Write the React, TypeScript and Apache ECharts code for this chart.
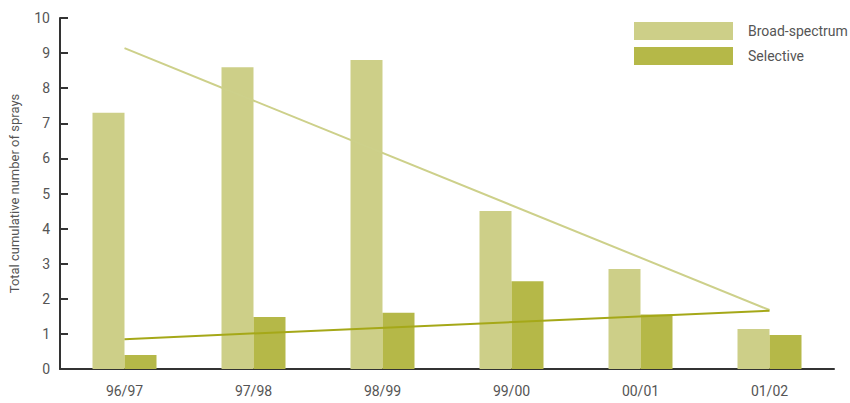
import React, { useEffect, useRef } from "react";
import * as echarts from "echarts";

const categories = ["96/97", "97/98", "98/99", "99/00", "00/01", "01/02"];
const broadSpectrum = [7.3, 8.6, 8.8, 4.5, 2.85, 1.14];
const selective = [0.4, 1.48, 1.6, 2.5, 1.55, 0.97];
// trend line end points, at first and last category
const broadTrend = [9.14, 1.68];
const selectiveTrend = [0.85, 1.66];
const yTicks = [0, 1, 2, 3, 4, 5, 6, 7, 8, 9, 10];

const FONT = "Roboto, 'Liberation Sans', sans-serif";
const BROAD = "#cdcf88";
const SEL = "#b5b848";

export default function App() {
  const ref = useRef<HTMLDivElement>(null);
  useEffect(() => {
    if (!ref.current) return;
    const chart = echarts.init(ref.current, undefined, { renderer: "svg" });
    const last = categories.length - 1;
    chart.setOption({
      animation: false,
      backgroundColor: "#ffffff",
      textStyle: { fontFamily: FONT },
      grid: { left: 57, right: 16, top: 18, bottom: 34, containLabel: false },
      legend: {
        orient: "vertical",
        left: 634,
        top: 22,
        padding: 0,
        itemWidth: 99,
        itemHeight: 18,
        itemGap: 7,
        icon: "rect",
        textStyle: { fontFamily: FONT, fontSize: 14, color: "#555", padding: [0, 0, 0, 10] },
        data: ["Broad-spectrum", "Selective"],
      },
      xAxis: {
        type: "category",
        data: categories,
        axisLine: { lineStyle: { color: "#333", width: 2 } },
        axisTick: { inside: true, length: 8, lineStyle: { color: "#333", width: 2 } },
        axisLabel: { color: "#555", fontSize: 14, margin: 15, fontFamily: FONT },
      },
      yAxis: {
        type: "value",
        min: yTicks[0],
        max: yTicks[yTicks.length - 1],
        interval: 1,
        name: "Total cumulative number of sprays",
        nameLocation: "middle",
        nameGap: 39,
        nameTextStyle: { color: "#555", fontSize: 13, fontFamily: FONT },
        axisLine: { show: true, lineStyle: { color: "#333", width: 2 } },
        axisTick: { show: true, inside: true, length: 8, lineStyle: { color: "#333", width: 2 } },
        axisLabel: { color: "#555", fontSize: 14, margin: 10, fontFamily: FONT },
        splitLine: { show: false },
      },
      series: [
        {
          name: "Broad-spectrum",
          type: "bar",
          data: broadSpectrum,
          barWidth: 32,
          barGap: "0%",
          itemStyle: { color: BROAD },
        },
        {
          name: "Selective",
          type: "bar",
          data: selective,
          barWidth: 32,
          barGap: "0%",
          itemStyle: { color: SEL },
        },
        {
          name: "Broad trend",
          type: "line",
          data: [[0, broadTrend[0]], [last, broadTrend[1]]],
          symbol: "none",
          lineStyle: { color: "#cdd08a", width: 2 },
          z: 5,
        },
        {
          name: "Selective trend",
          type: "line",
          data: [[0, selectiveTrend[0]], [last, selectiveTrend[1]]],
          symbol: "none",
          lineStyle: { color: "#a5a818", width: 2 },
          z: 6,
        },
      ],
    });
    return () => chart.dispose();
  }, []);
  return <div ref={ref} style={{ width: 850, height: 403, position: "absolute", left: 0, top: 0 }} />;
}
